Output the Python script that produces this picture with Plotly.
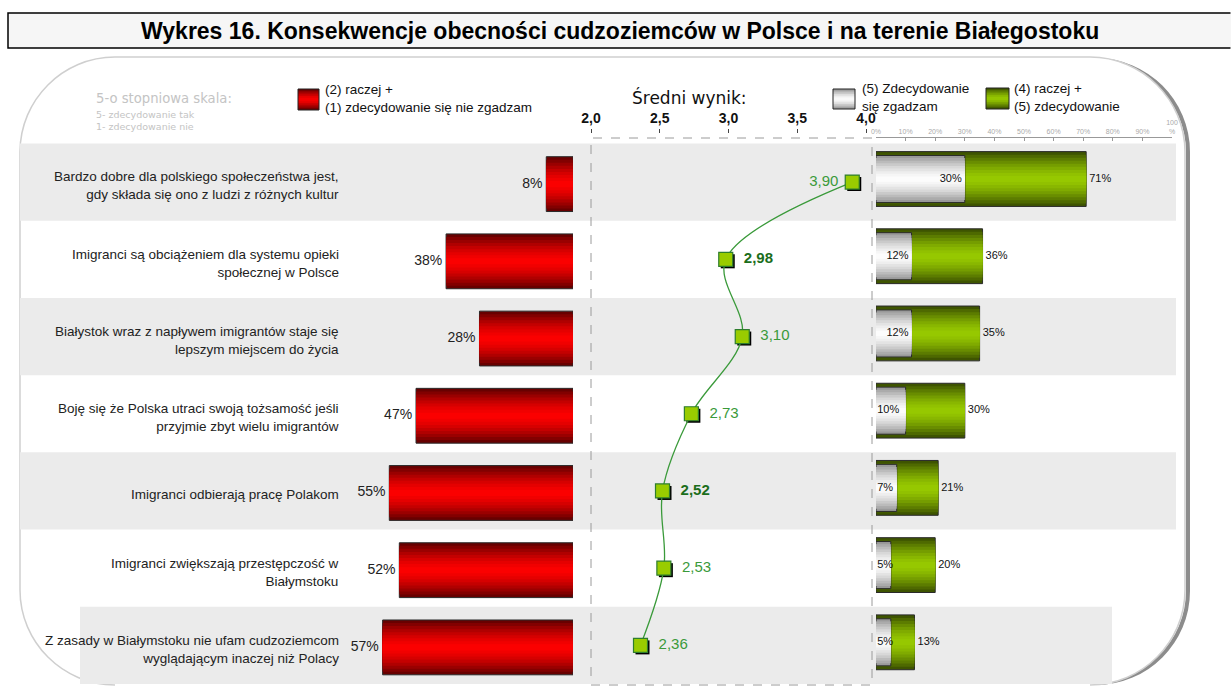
import plotly.graph_objects as go

# ---------------- data ----------------
categories = [
    "Bardzo dobre dla polskiego społeczeństwa jest,<br>gdy składa się ono z ludzi z różnych kultur",
    "Imigranci są obciążeniem dla systemu opieki<br>społecznej w Polsce",
    "Białystok wraz z napływem imigrantów staje się<br>lepszym miejscem do życia",
    "Boję się że Polska utraci swoją tożsamość jeśli<br>przyjmie zbyt wielu imigrantów",
    "Imigranci odbierają pracę Polakom",
    "Imigranci zwiększają przestępczość w<br>Białymstoku",
    "Z zasady w Białymstoku nie ufam cudzoziemcom<br>wyglądającym inaczej niż Polacy",
]
disagree = [8, 38, 28, 47, 55, 52, 57]            # (2)+(1)
mean_score = [3.90, 2.98, 3.10, 2.73, 2.52, 2.53, 2.36]
strongly_agree = [30, 12, 12, 10, 7, 5, 5]       # (5)
agree_total = [71, 36, 35, 30, 21, 20, 13]        # (4)+(5)
bold_mean = [False, True, False, False, True, False, False]
mean_ticks = [2.0, 2.5, 3.0, 3.5, 4.0]
pct_ticks = [0, 10, 20, 30, 40, 50, 60, 70, 80, 90, 100]

TITLE = "Wykres 16. Konsekwencje obecności cudzoziemców w Polsce i na terenie Białegostoku"

# ---------------- geometry helpers ----------------
W, H = 1231, 686
def px(x):
    return x / W
def py(y):
    return 1 - y / H

rows = list(range(len(categories)))
n = len(rows)
TOP, BOT = 143.5, 684.0
ydom = [py(BOT), py(TOP)]
row_h = (BOT - TOP) / n

def row_paper(i, off):
    return py(TOP + (i + 0.5 + off) * row_h)

def hexmix(c1, c2, t):
    a = [int(c1[k:k + 2], 16) for k in (1, 3, 5)]
    b = [int(c2[k:k + 2], 16) for k in (1, 3, 5)]
    return "#%02x%02x%02x" % tuple(round(a[j] + (b[j] - a[j]) * t) for j in range(3))

FONT = "Liberation Sans, Arial, sans-serif"
FONT_V = "DejaVu Sans, Verdana, sans-serif"
NB = "\u00a0"

fig = go.Figure()

def gradient_bars(x, xa, ya, width, edge, center, layers=9, line="#2a2a2a"):
    for k in range(layers):
        frac = 1 - k / layers
        col = hexmix(center, edge, frac ** 1.6)
        fig.add_trace(go.Bar(
            x=x, y=rows, orientation="h", width=width * frac,
            marker=dict(color=col, line=dict(width=1 if k == 0 else 0, color=line)),
            xaxis=xa, yaxis=ya, showlegend=False, hoverinfo="skip",
        ))

# red bars (left)
gradient_bars(disagree, "x", "y", 0.71, "#680000", "#ff0000")
fig.add_trace(go.Scatter(
    x=disagree, y=rows, mode="text", text=[f"{v}%{NB}" for v in disagree],
    textposition="middle left", textfont=dict(size=14, color="#222", family=FONT),
    xaxis="x", yaxis="y", showlegend=False, hoverinfo="skip"))

# green bars (right) + white bars
gradient_bars(agree_total, "x3", "y3", 0.71, "#3e5400", "#99cc00")
gradient_bars(strongly_agree, "x3", "y3", 0.61, "#9a9a9a", "#ffffff")
fig.add_trace(go.Scatter(
    x=agree_total, y=rows, mode="text", text=[f"{NB}{v}%" for v in agree_total],
    textposition="middle right", textfont=dict(size=11, color="#111", family=FONT),
    xaxis="x3", yaxis="y3", showlegend=False, hoverinfo="skip"))
fig.add_trace(go.Scatter(
    x=[v if v >= 12 else 0.4 for v in strongly_agree], y=rows, mode="text",
    text=[f"{v}%{NB}" if v >= 12 else f"{v}%" for v in strongly_agree],
    textposition=["middle left" if v >= 12 else "middle right" for v in strongly_agree],
    textfont=dict(size=11, color="#111", family=FONT),
    xaxis="x3", yaxis="y3", showlegend=False, hoverinfo="skip"))

# mean score: shadow (x2/y2 shifted) then main (x4/y4)
fig.add_trace(go.Scatter(
    x=mean_score, y=rows, mode="markers",
    marker=dict(symbol="square", size=14, color="#000"),
    xaxis="x2", yaxis="y2", showlegend=False, hoverinfo="skip"))
mean_txt = []
for i, (v, b) in enumerate(zip(mean_score, bold_mean)):
    s = f"{v:.2f}".replace(".", ",")
    s = f"<b>{s}</b>" if b else s
    mean_txt.append(s + NB if i == 0 else NB + NB + s)
fig.add_trace(go.Scatter(
    x=mean_score, y=rows, mode="lines+markers+text",
    line=dict(shape="spline", smoothing=1.0, color="#3a9a3a", width=1.3),
    marker=dict(symbol="square", size=14, color="#99cc00", line=dict(width=1.2, color="#2e7d2e")),
    text=mean_txt,
    textposition=["middle left"] + ["middle right"] * (n - 1),
    textfont=dict(size=15, family=FONT,
                  color=["#1b6e1b" if b else "#3a9a3a" for b in bold_mean]),
    xaxis="x4", yaxis="y4", showlegend=False, hoverinfo="skip"))

# ---------------- axes ----------------
RED_L, RED_R, RED_PPU = 345, 573, 3.34
MID_L, MID_R, MID_PPU = 591, 872, 137.5
RGT_L, RGT_R = 876, 1172
sh_x = 2 / MID_PPU
sh_y = 2 / row_h

fig.update_layout(
    xaxis=dict(domain=[px(RED_L), px(RED_R)], range=[(RED_R - RED_L) / RED_PPU, 0],
               visible=False, anchor="y"),
    yaxis=dict(domain=ydom, range=[n - 0.5 - 0.026, -0.5 - 0.026], visible=False, anchor="x"),
    xaxis2=dict(domain=[px(MID_L), px(MID_R)],
                range=[2.0 - sh_x, 2.0 + (MID_R - MID_L) / MID_PPU - sh_x],
                visible=False, anchor="y2"),
    yaxis2=dict(domain=ydom, range=[n - 0.5 - sh_y, -0.5 - sh_y], visible=False, anchor="x2"),
    xaxis4=dict(overlaying="x2", range=[2.0, 2.0 + (MID_R - MID_L) / MID_PPU],
                side="top", anchor="free", position=py(133),
                tickvals=mean_ticks, ticktext=[f"{t:.1f}".replace(".", ",") for t in mean_ticks],
                ticks="outside", ticklen=4, tickcolor="#444", showline=False, showgrid=False,
                zeroline=False, tickfont=dict(size=14, family=FONT, color="#111", weight="bold")),
    yaxis4=dict(overlaying="y2", range=[n - 0.5, -0.5], visible=False, anchor="x4"),
    xaxis3=dict(domain=[px(RGT_L), px(RGT_R)], range=[0, 100], side="top", anchor="free",
                position=py(137), tickvals=pct_ticks,
                ticktext=[f"{t}%" if t < 100 else "100<br>%" for t in pct_ticks],
                ticks="inside", ticklen=3, tickcolor="#999", showline=True, linecolor="#999",
                linewidth=1, showgrid=False, zeroline=False,
                tickfont=dict(size=7, family=FONT, color="#aaa")),
    yaxis3=dict(domain=ydom, range=[n - 0.5 + 0.04, -0.5 + 0.04], visible=False, anchor="x3"),
    barmode="overlay",
    width=W, height=H, margin=dict(l=0, r=0, t=0, b=0, autoexpand=False),
    paper_bgcolor="white", plot_bgcolor="rgba(0,0,0,0)",
    showlegend=False,
)

# ---------------- decorations ----------------
shapes = []

def P(x, y):
    return f"{px(x):.5f},{py(y):.5f}"

# title box (fill + open border that runs off the right edge)
shapes.append(dict(type="rect", xref="paper", yref="paper", x0=px(8), x1=1.0,
                   y0=py(48), y1=py(13), fillcolor="#f6f6f6", line=dict(width=0), layer="below"))
shapes.append(dict(type="path", xref="paper", yref="paper",
                   path=f"M{P(1230.5, 13)} L{P(8, 13)} L{P(8, 48)} L{P(1230.5, 48)}",
                   line=dict(color="#000", width=1.5), fillcolor="rgba(0,0,0,0)", layer="below"))

def frame(l, t, r, b, rad):
    # open rounded frame whose bottom corners stop at the bottom edge of the picture
    k = 0.45
    return (f"M{P(l + rad, b)} C{P(l + rad * k, b)} {P(l, b - rad * k)} {P(l, b - rad)} "
            f"L{P(l, t + rad)} C{P(l, t + rad * k)} {P(l + rad * k, t)} {P(l + rad, t)} "
            f"L{P(r - rad, t)} C{P(r - rad * k, t)} {P(r, t + rad * k)} {P(r, t + rad)} "
            f"L{P(r, b - rad)} C{P(r, b - rad * k)} {P(r - rad * k, b)} {P(r - rad, b)}")

shapes.append(dict(type="path", xref="paper", yref="paper", path=frame(23, 60, 1188, 683, 92),
                   line=dict(color="#8c8c8c", width=4), fillcolor="rgba(0,0,0,0)", layer="below"))
shapes.append(dict(type="path", xref="paper", yref="paper", path=frame(20, 57, 1185, 685, 95),
                   line=dict(color="#cfcfcf", width=1.5), fillcolor="#ffffff", layer="below"))
# row bands
for i in rows:
    if i % 2 == 0:
        x0, x1 = (20, 1176) if i < n - 1 else (80, 1112)
        shapes.append(dict(type="rect", xref="paper", yref="paper", x0=px(x0), x1=px(x1),
                           y0=max(row_paper(i, 0.5), py(685.5)), y1=row_paper(i, -0.5),
                           fillcolor="#ebebeb", line=dict(width=0), layer="below"))
# dashed box around mean panel
shapes.append(dict(type="rect", xref="paper", yref="paper", x0=px(MID_L), x1=px(MID_R),
                   y0=py(BOT + 1), y1=py(138), line=dict(color="#9a9a9a", width=1, dash="dash"),
                   fillcolor="rgba(0,0,0,0)", layer="below"))

# legend swatches (layered gradient)
def swatch(x0, y0, x1, y1, edge, center, layers=6):
    for k in range(layers):
        frac = 1 - k / layers
        col = hexmix(center, edge, frac ** 1.6)
        hh = (y1 - y0) * frac / 2
        cy = (y0 + y1) / 2
        shapes.append(dict(type="rect", xref="paper", yref="paper",
                           x0=px(x0), x1=px(x1), y0=py(cy + hh), y1=py(cy - hh),
                           fillcolor=col, line=dict(width=0), layer="above"))
    shapes.append(dict(type="rect", xref="paper", yref="paper", x0=px(x0), x1=px(x1),
                       y0=py(y1), y1=py(y0), line=dict(color="#222", width=1),
                       fillcolor="rgba(0,0,0,0)", layer="above"))

swatch(298, 89, 319, 110, "#680000", "#ff0000")
swatch(833, 89, 855, 109, "#9a9a9a", "#ffffff")
swatch(986, 88, 1009, 109, "#3e5400", "#99cc00")

ann = []
for i, c in enumerate(categories):
    ann.append(dict(xref="paper", yref="paper", x=px(341), y=row_paper(i, 0.05), text=c,
                    xanchor="right", yanchor="middle", align="right", showarrow=False,
                    font=dict(size=13.5, family=FONT, color="#222")))

LEG = 13.5
ann += [
    dict(xref="paper", yref="paper", x=px(620), y=py(31), text=f"<b>{TITLE}</b>",
         showarrow=False, xanchor="center", yanchor="middle",
         font=dict(size=23, family=FONT, color="#000")),
    dict(xref="paper", yref="paper", x=px(94), y=py(99), text="5-o stopniowa skala:",
         showarrow=False, xanchor="left", yanchor="middle",
         font=dict(size=13.2, family=FONT_V, color="#c4c4c4")),
    dict(xref="paper", yref="paper", x=px(94), y=py(120),
         text="5- zdecydowanie tak<br>1- zdecydowanie nie", align="left",
         showarrow=False, xanchor="left", yanchor="middle",
         font=dict(size=9.5, family=FONT_V, color="#c4c4c4")),
    dict(xref="paper", yref="paper", x=px(323), y=py(99),
         text="(2) raczej +<br>(1) zdecydowanie się nie zgadzam", align="left",
         showarrow=False, xanchor="left", yanchor="middle",
         font=dict(size=LEG, family=FONT, color="#111")),
    dict(xref="paper", yref="paper", x=px(690), y=py(98), text="Średni wynik:",
         showarrow=False, xanchor="center", yanchor="middle",
         font=dict(size=17, family=FONT_V, color="#111")),
    dict(xref="paper", yref="paper", x=px(860), y=py(97),
         text="(5) Zdecydowanie<br>się zgadzam", align="left",
         showarrow=False, xanchor="left", yanchor="middle",
         font=dict(size=LEG, family=FONT, color="#111")),
    dict(xref="paper", yref="paper", x=px(1012), y=py(97),
         text="(4) raczej +<br>(5) zdecydowanie", align="left",
         showarrow=False, xanchor="left", yanchor="middle",
         font=dict(size=LEG, family=FONT, color="#111")),
]

fig.update_layout(shapes=shapes, annotations=ann)
fig.write_html(
    "out.html",
    config={"displayModeBar": False},
    post_script=("document.body.style.margin='0px';document.body.style.overflow='hidden';"
                 "document.documentElement.style.overflow='hidden';"),
)
